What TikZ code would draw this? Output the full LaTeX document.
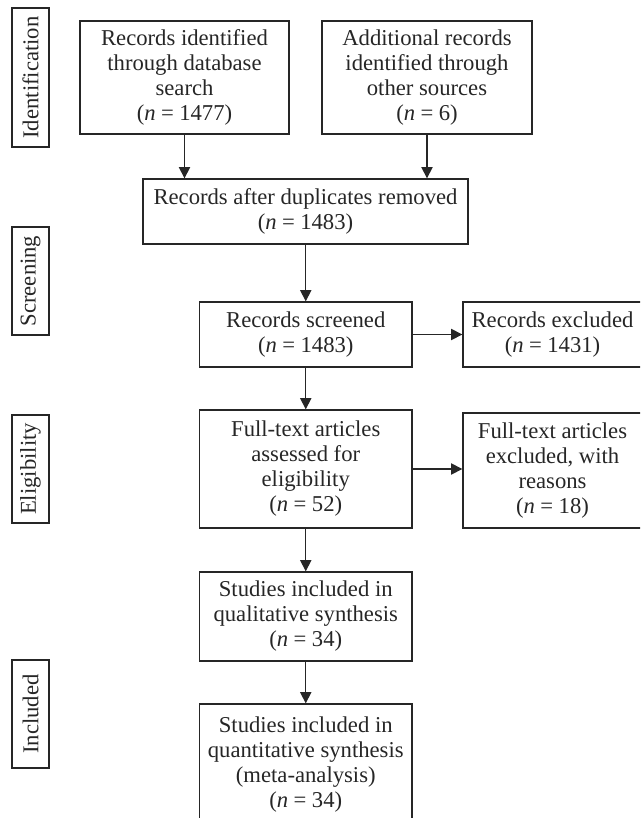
\documentclass[tikz,border=0pt]{standalone}
\usepackage{fontspec}
\setmainfont{Liberation Serif}
\usetikzlibrary{arrows.meta}
\definecolor{ink}{HTML}{262626}
\tikzset{
  box/.style={draw=ink, line width=1pt, inner sep=0pt, align=center, text=ink,
    font=\fontsize{17}{18.75}\selectfont},
  side/.style={box, rotate=90, minimum height=27.75pt},
  arr/.style={draw=ink, line width=1pt, -{Triangle[length=8.5pt,width=8.5pt]}}
}
\newcommand{\nn}[1]{(\textit{n}\hspace{0.24em}=\hspace{0.24em}#1)}
\begin{document}
\begin{tikzpicture}[x=0.75pt,y=-0.75pt]
\useasboundingbox (0,0) rectangle (640,818);
\clip (0,0) rectangle (640,818);
% side labels
\node[side, minimum width=104.25pt] (lid) at (30.5,77.5) {Identification};
\node[side, minimum width=81pt] (lsc) at (30.5,281) {Screening};
\node[side, minimum width=81pt] (lel) at (30.5,469) {Eligibility};
\node[side, minimum width=81pt] (lin) at (30.5,714) {Included};
% boxes
\node[box, minimum width=156.75pt, minimum height=84.75pt] (b1) at (184.5,77.5)
  {Records identified\\through database\\search\\\nn{1477}};
\node[box, minimum width=157.5pt, minimum height=84.75pt] (b2) at (427,77.5)
  {Additional records\\identified through\\other sources\\\nn{6}};
\node[box, minimum width=243.75pt, minimum height=48.75pt] (b3) at (305.5,211.5)
  {Records after duplicates removed\\\nn{1483}};
\node[box, minimum width=159.4pt, minimum height=48.75pt] (b4) at (305.75,334.5)
  {Records screened\\\nn{1483}};
\node[box, minimum width=134.25pt, minimum height=48.75pt] (b5) at (552.5,334.5)
  {Records excluded\\\nn{1431}};
\node[box, minimum width=159.4pt, minimum height=88.5pt] (b6) at (305.75,469)
  {Full-text articles\\assessed for\\eligibility\\\nn{52}};
\node[box, minimum width=134.25pt, minimum height=86.25pt] (b7) at (552.5,470.5)
  {Full-text articles\\excluded, with\\reasons\\\nn{18}};
\node[box, minimum width=159.4pt, minimum height=66.75pt] (b8) at (305.75,616.5)
  {Studies included in\\qualitative synthesis\\\nn{34}};
\node[box, minimum width=159.4pt, minimum height=91.5pt] (b9) at (305.75,765)
  {Studies included in\\quantitative synthesis\\(meta-analysis)\\\nn{34}};
% connectors
\draw[arr] (b1.south) -- (b1.south |- b3.north);
\draw[arr] (b2.south) -- (b2.south |- b3.north);
\draw[arr] (b3.south -| b4.north) -- (b4.north);
\draw[arr] (b4.east) -- (b5.west);
\draw[arr] (b4.south) -- (b6.north);
\draw[arr] (b6.east) -- (b6.east -| b7.west);
\draw[arr] (b6.south) -- (b8.north);
\draw[arr] (b8.south) -- (b9.north);
\end{tikzpicture}
\end{document}
